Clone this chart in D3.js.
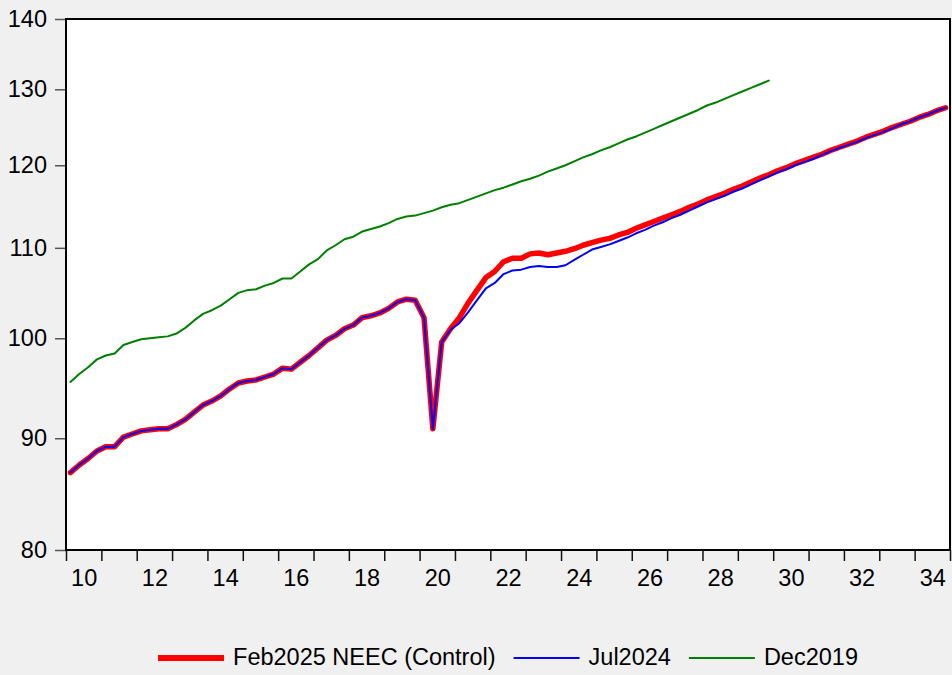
<!DOCTYPE html>
<html><head><meta charset="utf-8">
<script src="https://cdn.jsdelivr.net/npm/d3@7/dist/d3.min.js"></script>
<style>
html,body{margin:0;padding:0;background:#f0f0f0;}
svg{display:block;}
text{font-family:"Liberation Sans",Arial,sans-serif;fill:#000;}
</style></head><body>
<svg id="chart" width="952" height="675"></svg>
<script>
// Quarterly data, first observation 2010Q1
const startYear = 2010;
const seriesNames = ["Feb2025 NEEC (Control)", "Jul2024", "Dec2019"];
const seriesColors = ["#ff0000", "#0000ff", "#008000"];

const feb2025 = [
  86.8, 87.5, 88.1, 88.8,  89.2, 89.2, 90.1, 90.4,  90.7, 90.8, 90.9, 90.9,
  91.3, 91.8, 92.5, 93.2,  93.6, 94.1, 94.8, 95.4,  95.6, 95.7, 96.0, 96.3,
  96.9, 96.8, 97.5, 98.2,  99.0, 99.8, 100.3, 101.0, 101.4, 102.2, 102.4, 102.7,
  103.2, 103.9, 104.2, 104.1, 102.2, 90.9, 99.6, 101.0, 102.2, 103.8, 105.2, 106.6,
  107.3, 108.4, 108.8, 108.8, 109.3, 109.4, 109.2, 109.4, 109.6, 109.9, 110.3, 110.6,
  110.9, 111.1, 111.5, 111.8, 112.3, 112.7, 113.1, 113.5, 113.9, 114.3, 114.8, 115.2,
  115.7, 116.1, 116.5, 117.0, 117.4, 117.9, 118.4, 118.8, 119.3, 119.7, 120.2, 120.6,
  121.0, 121.4, 121.9, 122.3, 122.7, 123.1, 123.6, 124.0, 124.4, 124.9, 125.3, 125.7,
  126.2, 126.6, 127.1, 127.5
];
const jul2024 = [
  86.8, 87.5, 88.1, 88.8,  89.2, 89.2, 90.1, 90.4,  90.7, 90.8, 90.9, 90.9,
  91.3, 91.8, 92.5, 93.2,  93.6, 94.1, 94.8, 95.4,  95.6, 95.7, 96.0, 96.3,
  96.9, 96.8, 97.5, 98.2,  99.0, 99.8, 100.3, 101.0, 101.4, 102.2, 102.4, 102.7,
  103.2, 103.9, 104.2, 104.1, 102.2, 90.9, 99.6, 100.9, 101.6, 102.8, 104.1, 105.4,
  106.0, 107.0, 107.4, 107.5, 107.8, 107.9, 107.8, 107.8, 108.0, 108.6, 109.2, 109.8,
  110.1, 110.4, 110.8, 111.2, 111.7, 112.1, 112.6, 113.0, 113.5, 113.9, 114.4, 114.9,
  115.4, 115.8, 116.2, 116.7, 117.1, 117.6, 118.1, 118.6, 119.1, 119.5, 120.0, 120.4,
  120.8, 121.3, 121.8, 122.2, 122.6, 123.0, 123.5, 123.9, 124.3, 124.8, 125.3, 125.7,
  126.2, 126.6, 127.1, 127.5
];
const dec2019 = [
  95.5, 96.3, 97.0, 97.8,  98.2, 98.4, 99.3, 99.6,  99.9, 100.0, 100.1, 100.2,
  100.5, 101.1, 101.9, 102.6, 103.0, 103.5, 104.2, 104.9, 105.2, 105.3, 105.7, 106.0,
  106.5, 106.5, 107.3, 108.1, 108.7, 109.7, 110.3, 111.0, 111.3, 111.9, 112.2, 112.5,
  112.9, 113.4, 113.7, 113.8, 114.1, 114.4, 114.8, 115.1, 115.3, 115.7, 116.1, 116.5,
  116.9, 117.2, 117.6, 118.0, 118.3, 118.7, 119.2, 119.6, 120.0, 120.5, 121.0, 121.4,
  121.9, 122.3, 122.8, 123.3, 123.7, 124.2, 124.7, 125.2, 125.7, 126.2, 126.7, 127.2,
  127.8, 128.2, 128.7, 129.2, 129.7, 130.2, 130.7, 131.2
];

const yTicks = [80, 90, 100, 110, 120, 130, 140];
const xTickYears = d3.range(2010, 2036);
const xLabelYears = [2010, 2012, 2014, 2016, 2018, 2020, 2022, 2024, 2026, 2028, 2030, 2032, 2034];

// Layout
const W = 952, H = 675;
const plot = {left: 66, right: 950, top: 19, bottom: 550};
const fontSize = 23.5;

const svg = d3.select("#chart");
svg.append("rect").attr("width", W).attr("height", H).attr("fill", "#f0f0f0");

const x = d3.scaleLinear().domain([2010, 2035]).range([plot.left, plot.right]);
const y = d3.scaleLog().domain([80, 140]).range([plot.bottom, plot.top]);

svg.append("rect")
  .attr("x", plot.left).attr("y", plot.top)
  .attr("width", plot.right - plot.left).attr("height", plot.bottom - plot.top)
  .attr("fill", "#ffffff");

// time position of quarter i (middle of quarter)
const tOf = i => startYear + (i + 0.5) / 4;

const series = [feb2025, jul2024, dec2019];
const widths = [5.5, 2, 2];
const order = [2, 0, 1];
const line = d3.line().x((d, i) => x(tOf(i))).y(d => y(d));

const g = svg.append("g");
order.forEach(k => {
  g.append("path")
    .datum(series[k])
    .attr("d", line)
    .attr("fill", "none")
    .attr("stroke", seriesColors[k])
    .attr("stroke-width", widths[k])
    .attr("stroke-linejoin", "round")
    .attr("stroke-linecap", "round");
});

// Y axis
const yAxis = d3.axisLeft(y).tickValues(yTicks).tickSize(11).tickPadding(8).tickFormat(d3.format("d"));
const gy = svg.append("g").attr("transform", `translate(${plot.left},0)`).call(yAxis);
gy.select(".domain").remove();
gy.selectAll(".tick line").attr("stroke", "#555").attr("stroke-width", 1.5);
gy.selectAll(".tick text").attr("font-size", fontSize).attr("font-family", "Liberation Sans, Arial, sans-serif").attr("fill", "#000");

// X axis ticks
const xAxis = d3.axisBottom(x).tickValues(xTickYears).tickSize(11).tickFormat("");
const gx = svg.append("g").attr("transform", `translate(0,${plot.bottom})`).call(xAxis);
gx.select(".domain").remove();
gx.selectAll(".tick line").attr("stroke", "#111").attr("stroke-width", 1.5);

// X labels centered in mid-year
const xLab = d3.axisBottom(x).tickValues(xLabelYears.map(v => v + 0.5)).tickSize(0).tickPadding(19)
  .tickFormat(d => String(Math.floor(d) % 100).padStart(2, "0"));
const gxl = svg.append("g").attr("transform", `translate(0,${plot.bottom})`).call(xLab);
gxl.select(".domain").remove();
gxl.selectAll(".tick text").attr("font-size", fontSize).attr("font-family", "Liberation Sans, Arial, sans-serif").attr("fill", "#000");

// frame
svg.append("rect")
  .attr("x", plot.left).attr("y", plot.top)
  .attr("width", plot.right - plot.left).attr("height", plot.bottom - plot.top)
  .attr("fill", "none").attr("stroke", "#000").attr("stroke-width", 2);

// Legend
const legY = 657;
const lineLen = 66, gapLT = 9, gapItem = 18;
const leg = svg.append("g");
const items = seriesNames.map((name, k) => {
  const t = leg.append("text").attr("font-size", fontSize).attr("y", legY).attr("dy", "0.35em").text(name);
  return {k, t, w: t.node().getComputedTextLength()};
});
let total = 0;
items.forEach((it, j) => { total += lineLen + gapLT + it.w + (j < items.length - 1 ? gapItem : 0); });
let cx = (plot.left + plot.right) / 2 - total / 2;
items.forEach(it => {
  leg.append("line").attr("x1", cx).attr("x2", cx + lineLen).attr("y1", legY + 1).attr("y2", legY + 1)
    .attr("stroke", seriesColors[it.k]).attr("stroke-width", widths[it.k] === 2 ? 2 : 6);
  it.t.attr("x", cx + lineLen + gapLT);
  cx += lineLen + gapLT + it.w + gapItem;
});
</script>
</body></html>
